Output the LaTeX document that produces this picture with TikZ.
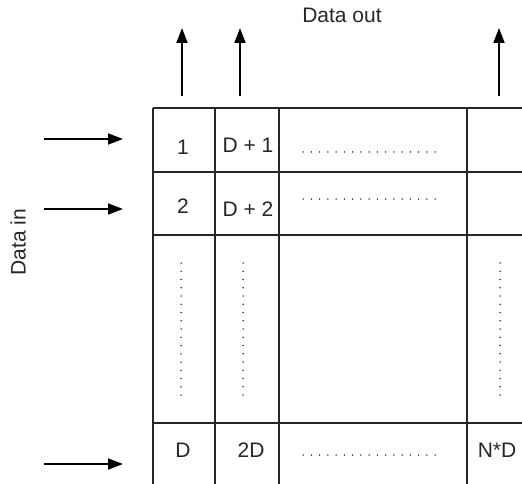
\documentclass[tikz,border=0pt]{standalone}
\usepackage{fontspec}
\setmainfont{Liberation Sans}
\usetikzlibrary{arrows.meta}
\begin{document}
\begin{tikzpicture}[x=1pt,y=-1pt,
  grid/.style={line width=1.2pt, draw=black!85},
  arr/.style={line width=1.8pt, -{Triangle[length=15pt,width=11pt]}},
  lbl/.style={font=\fontsize{21}{24}\selectfont, text=black!85, inner sep=0pt},
  dots/.style={line width=1.5pt, line cap=round, dash pattern=on 0pt off 8.25pt, draw=black}]
\useasboundingbox (0,0) rectangle (522,484);
% grid
\draw[grid] (153,108) -- (522,108);
\draw[grid] (153,172) -- (522,172);
\draw[grid] (153,235) -- (522,235);
\draw[grid] (153,423) -- (522,423);
\draw[grid] (153,108) -- (153,484);
\draw[grid] (215,108) -- (215,484);
\draw[grid] (279,108) -- (279,484);
\draw[grid] (467,108) -- (467,484);
% up arrows
\coordinate (u1s) at (182,96); \coordinate (u1e) at (182,28);
\coordinate (u2s) at (240,96); \coordinate (u2e) at (240,28);
\coordinate (u3s) at (499,96); \coordinate (u3e) at (499,28);
\draw[arr] (u1s) -- (u1e);
\draw[arr] (u2s) -- (u2e);
\draw[arr] (u3s) -- (u3e);
% left arrows
\coordinate (l1s) at (44,139); \coordinate (l1e) at (123,139);
\coordinate (l2s) at (44,209); \coordinate (l2e) at (123,209);
\coordinate (l3s) at (44,464); \coordinate (l3e) at (123,464);
\draw[arr] (l1s) -- (l1e);
\draw[arr] (l2s) -- (l2e);
\draw[arr] (l3s) -- (l3e);
% labels
\node[lbl] (dout) at (342,15) {Data out};
\node[lbl, rotate=90] (din) at (18,242) {Data in};
\node[lbl] (c1) at (183,147) {1};
\node[lbl] (cd1) at (248,145) {D + 1};
\node[lbl] (c2) at (183,206) {2};
\node[lbl] (cd2) at (248,209) {D + 2};
\node[lbl] (cD) at (183,450) {D};
\node[lbl] (c2D) at (251,450) {2D};
\node[lbl] (cND) at (497,450) {N*D};
% dots
\draw[dots] (303,152) -- (436,152);
\draw[dots] (303,199) -- (436,199);
\draw[dots] (303,455) -- (436,455);
\draw[dots] (181,263) -- (181,396);
\draw[dots] (243,263) -- (243,396);
\draw[dots] (500,263) -- (500,396);
\end{tikzpicture}
\end{document}
